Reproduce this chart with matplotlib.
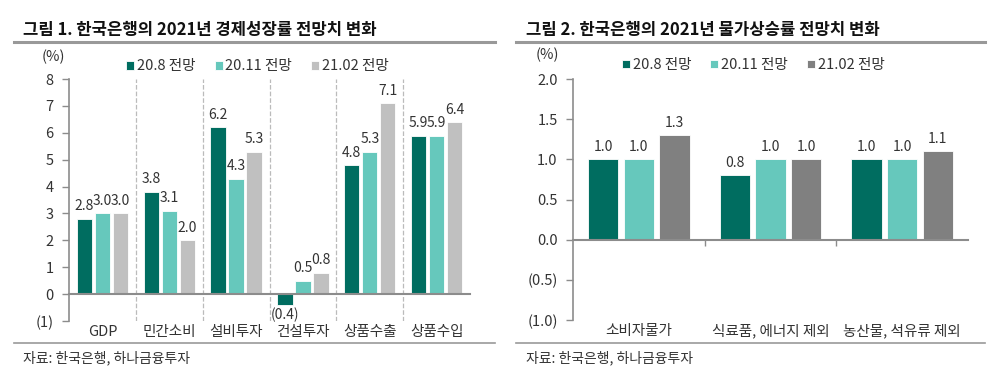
import matplotlib.pyplot as plt
import numpy as np

plt.rcParams['font.family'] = ['Noto Sans CJK KR', 'DejaVu Sans']

# data
series = ['20.8 전망', '20.11 전망', '21.02 전망']

gdp_cats = ['GDP', '민간소비', '설비투자', '건설투자', '상품수출', '상품수입']
gdp_208 = [2.8, 3.8, 6.2, -0.4, 4.8, 5.9]
gdp_2011 = [3.0, 3.1, 4.3, 0.5, 5.3, 5.9]
gdp_2102 = [3.0, 2.0, 5.3, 0.8, 7.1, 6.4]
gdp_ticks = [8, 7, 6, 5, 4, 3, 2, 1, 0, -1]

cpi_cats = ['소비자물가', '식료품, 에너지 제외', '농산물, 석유류 제외']
cpi_208 = [1.0, 0.8, 1.0]
cpi_2011 = [1.0, 1.0, 1.0]
cpi_2102 = [1.3, 1.0, 1.1]
cpi_ticks = [2.0, 1.5, 1.0, 0.5, 0.0, -0.5, -1.0]

DARK = '#006D60'
TEAL = '#66C8BC'
LGRAY = '#C0C0C0'
DGRAY = '#808080'
TXT = '#333333'
AX = '#8C8C8C'


def fmt(v, dec):
    s = f"{abs(v):.{dec}f}"
    return f"({s})" if v < 0 else s


def draw_panel(ax, cats, vals, colors, ylim, ticks, dec, dashed):
    x = np.arange(len(cats))
    off = [-0.27, 0, 0.27]
    for i, (v, c) in enumerate(zip(vals, colors)):
        bars = ax.bar(x + off[i], v, 0.23, color=c, edgecolor='white', linewidth=0.6,
                      label=series[i], zorder=3)
        for b, val in zip(bars, v):
            if val >= 0:
                ax.annotate(fmt(val, 1), (b.get_x() + b.get_width() / 2, val),
                            xytext=(0, 4), textcoords='offset points',
                            ha='center', va='bottom', fontsize=10, color=TXT)
            else:
                ax.annotate(fmt(val, 1), (b.get_x() + b.get_width() / 2, val),
                            xytext=(0, -2), textcoords='offset points',
                            ha='center', va='top', fontsize=10, color=TXT)
    ax.set_xlim(-0.5, len(cats) - 0.5)
    ax.set_ylim(*ylim)
    ax.set_yticks(ticks)
    ax.set_yticklabels([fmt(t, dec) for t in ticks], fontsize=10.5, color=TXT)
    ax.tick_params(axis='y', length=5, color=AX, width=1, pad=6)
    for s in ['top', 'right']:
        ax.spines[s].set_visible(False)
    ax.spines['left'].set_color(AX)
    ax.spines['left'].set_linewidth(1.2)
    ax.spines['bottom'].set_position(('data', 0))
    ax.spines['bottom'].set_color(AX)
    ax.spines['bottom'].set_linewidth(1.5)
    ax.spines['bottom'].set_zorder(4)
    ax.set_xticks([])
    if dashed:
        for b in x[:-1] + 0.5:
            ax.axvline(b, color='#BBBBBB', ls='--', lw=0.9, zorder=1)
    else:
        ax.set_xticks(x[:-1] + 0.5, minor=True)
        ax.tick_params(axis='x', which='minor', length=4, color=AX, width=1)
    for xi, c in zip(x, cats):
        ax.text(xi, -0.045, c, transform=ax.get_xaxis_transform(),
                ha='center', va='center', fontsize=10.5, color=TXT)


fig = plt.figure(figsize=(10, 3.81), dpi=100)

ax1 = fig.add_axes([0.069, 0.1575, 0.401, 0.635])
draw_panel(ax1, gdp_cats, [gdp_208, gdp_2011, gdp_2102], [DARK, TEAL, LGRAY],
           (-1, 8), gdp_ticks, 0, True)
ax1.text(-0.04, 1.09, '(%)', transform=ax1.transAxes, ha='center', va='center',
         fontsize=10.5, color=TXT)
ax1.legend(loc='center', bbox_to_anchor=(0.47, 1.052), ncol=3, frameon=False,
           fontsize=10.5, handlelength=0.55, handleheight=0.55, handletextpad=0.2,
           columnspacing=1.3, labelcolor=TXT)

ax2 = fig.add_axes([0.573, 0.160, 0.395, 0.6325])
draw_panel(ax2, cpi_cats, [cpi_208, cpi_2011, cpi_2102], [DARK, TEAL, DGRAY],
           (-1, 2), cpi_ticks, 1, False)
ax2.text(-0.065, 1.1, '(%)', transform=ax2.transAxes, ha='center', va='center',
         fontsize=10.5, color=TXT)
ax2.legend(loc='center', bbox_to_anchor=(0.456, 1.058), ncol=3, frameon=False,
           fontsize=10.5, handlelength=0.55, handleheight=0.55, handletextpad=0.2,
           columnspacing=1.3, labelcolor=TXT)

# titles, rules and sources
titles = ['그림 1. 한국은행의 2021년 경제성장률 전망치 변화',
          '그림 2. 한국은행의 2021년 물가상승률 전망치 변화']
for x0, x1, tx, t in [(0.014, 0.495, 0.023, titles[0]), (0.516, 0.985, 0.526, titles[1])]:
    fig.text(tx, 1 - 30 / 381, t, fontsize=12, fontweight='bold', color='#111111',
             ha='left', va='center')
    fig.add_artist(plt.Line2D([x0, x1], [1 - 42 / 381] * 2, color='#999999', lw=2.2))
    fig.add_artist(plt.Line2D([x0, x1], [1 - 343 / 381] * 2, color='#999999', lw=1.2))
    fig.text(tx, 1 - 358 / 381, '자료: 한국은행, 하나금융투자', fontsize=10, color=TXT,
             ha='left', va='center')

fig.savefig('out.png', dpi=100)
